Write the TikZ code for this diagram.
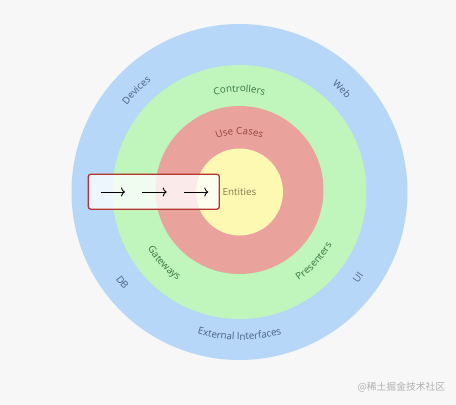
\documentclass[tikz,border=0pt]{standalone}
\usepackage{fontspec}
\setmainfont{Open Sans}
\newfontfamily\cjkfont{Noto Sans CJK SC}
\usetikzlibrary{decorations.text,arrows.meta}
\definecolor{bgc}{RGB}{247,247,247}
\definecolor{bluering}{RGB}{182,215,247}
\definecolor{greenring}{RGB}{192,245,188}
\definecolor{redring}{RGB}{233,162,156}
\definecolor{yellowcore}{RGB}{253,248,178}
\definecolor{bluetext}{RGB}{72,98,130}
\definecolor{greentext}{RGB}{55,118,66}
\definecolor{redtext}{RGB}{150,68,68}
\definecolor{yellowtext}{RGB}{130,125,78}
\definecolor{boxborder}{RGB}{181,52,46}
\definecolor{wmgray}{RGB}{176,176,176}
\newcommand\lblfont{\fontsize{9.8}{11}\selectfont}
\newcommand\toplabel[5]{% angle, baseline radius, half span, colour, text
  \path[decorate,decoration={text along path,text align=center,
    text={|\lblfont\color{#4}|#5}}]
    (#1+#3:#2) arc[start angle=#1+#3,end angle=#1-#3,radius=#2];}
\newcommand\botlabel[5]{% angle, baseline radius, half span, colour, text
  \path[decorate,decoration={text along path,text align=center,
    text={|\lblfont\color{#4}|#5}}]
    (#1-#3:#2) arc[start angle=#1-#3,end angle=#1+#3,radius=#2];}
\begin{document}
\begin{tikzpicture}[x=1pt,y=1pt,
  flowarrow/.style={-{To[length=4pt,width=9pt]},line width=0.9pt,black},
  hintbox/.style={draw=boxborder,line width=1.3pt,fill=white,fill opacity=0.78,rounded corners=2.5pt}]
  \fill[bgc] (-239.5,-213) rectangle (216.5,192);
  \useasboundingbox (-239.5,-213) rectangle (216.5,192);
  \fill[bluering] (0,0) circle[radius=168];
  \fill[greenring] (0,0) circle[radius=127];
  \fill[redring] (0,2) circle[radius=84];
  \fill[yellowcore] (0,0) circle[radius=43.5];
  % labels
  \toplabel{90}{100}{25}{greentext}{Controllers}
  \toplabel{90}{58}{45}{redtext}{Use Cases}
  \toplabel{135.4}{142}{20}{bluetext}{Devices}
  \toplabel{45.2}{142}{15}{bluetext}{Web}
  \botlabel{223.4}{108}{25}{greentext}{Gateways}
  \botlabel{317}{106.5}{27}{greentext}{Presenters}
  \botlabel{217.7}{151.5}{8}{bluetext}{DB}
  \botlabel{324.3}{149.5}{8}{bluetext}{UI}
  \botlabel{270}{148}{30}{bluetext}{External Interfaces}
  % box
  \node[hintbox,minimum width=131pt,minimum height=35pt,inner sep=0pt] (hint) at (-85.7,0.3) {};
  \node[text=yellowtext,font=\lblfont] (entities) at (0,0) {Entities};
  \coordinate (a1s) at (-138.8,0); \coordinate (a1e) at (-114.5,0);
  \coordinate (a2s) at (-97.5,0);  \coordinate (a2e) at (-72.8,0);
  \coordinate (a3s) at (-55.5,0);  \coordinate (a3e) at (-31.2,0);
  \draw[flowarrow] (a1s) -- (a1e);
  \draw[flowarrow] (a2s) -- (a2e);
  \draw[flowarrow] (a3s) -- (a3e);
  \node[text=wmgray,font=\cjkfont\fontsize{9.8}{11}\selectfont,anchor=east,inner sep=0pt] (wm) at (206,-195) {@稀土掘金技术社区};
\end{tikzpicture}
\end{document}
